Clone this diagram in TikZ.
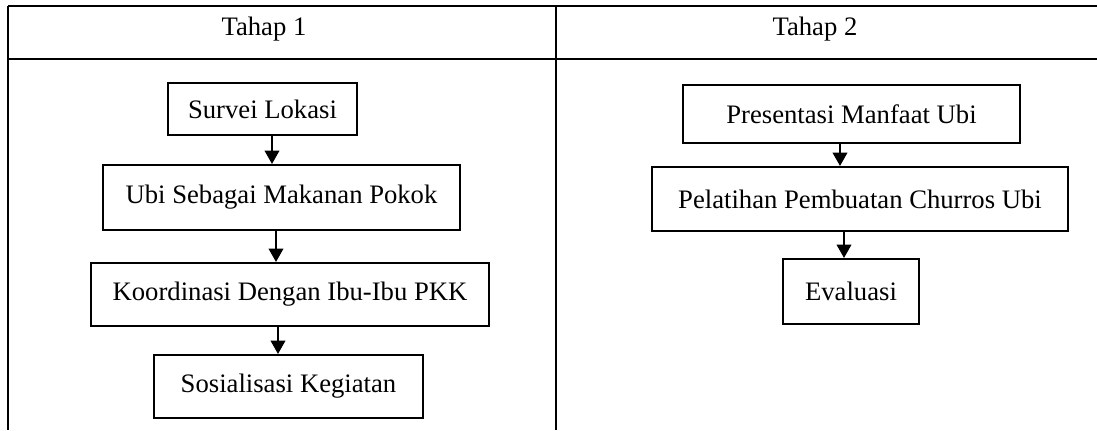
\documentclass[tikz,border=0pt]{standalone}
\usepackage{fontspec}
\setmainfont{Liberation Serif}
\usetikzlibrary{arrows.meta}

\begin{document}
\begin{tikzpicture}[x=0.75pt,y=-0.75pt,
        kotak/.style={draw,line width=1.6pt,inner sep=0pt,font=\fontsize{20}{24}\selectfont},
        panah/.style={line width=1.3pt,-{Triangle[length=10pt,width=11pt]}},
        garis/.style={line width=2.2pt}] %Tahapan kegiatan
            \useasboundingbox (0,0) rectangle (1097,430);
            % tabel
            \draw[garis] (8,6) -- (1097,6);
            \draw[garis] (8,59) -- (1097,59);
            \draw[garis] (8,6) -- (8,430);
            \draw[garis] (556,6) -- (556,430);
            \node[anchor=base,font=\fontsize{20}{24}\selectfont] (t1) at (264,35) {Tahap 1};
            \node[anchor=base,font=\fontsize{20}{24}\selectfont] (t2) at (815,35) {Tahap 2};

            % tahap 1
            \node[kotak,minimum width=141.75pt,minimum height=39pt] (survei) at (262.5,109) {Survei Lokasi};
            \node[kotak,minimum width=267.75pt,minimum height=48.75pt] (ubi) at (281.5,197.5) {Ubi Sebagai Makanan Pokok};
            \node[kotak,minimum width=298.5pt,minimum height=47.25pt] (koordinasi) at (290,294.5) {Koordinasi Dengan Ibu-Ibu PKK};
            \node[kotak,minimum width=201.75pt,minimum height=47.25pt] (sosialisasi) at (288.5,386.5) {Sosialisasi Kegiatan};
            \draw[panah] (272,0 |- survei.south) -- (272,0 |- ubi.north);
            \draw[panah] (276,0 |- ubi.south) -- (276,0 |- koordinasi.north);
            \draw[panah] (278,0 |- koordinasi.south) -- (278,0 |- sosialisasi.north);

            % tahap 2
            \node[kotak,minimum width=252.75pt,minimum height=43.5pt] (presentasi) at (851.5,114) {Presentasi Manfaat Ubi};
            \node[kotak,minimum width=312pt,minimum height=48pt] (pelatihan) at (860,199) {Pelatihan Pembuatan Churros Ubi};
            \node[kotak,minimum width=102pt,minimum height=48.75pt] (evaluasi) at (851,291.5) {Evaluasi};
            \draw[panah] (840,0 |- presentasi.south) -- (840,0 |- pelatihan.north);
            \draw[panah] (844,0 |- pelatihan.south) -- (844,0 |- evaluasi.north);
        \end{tikzpicture}
\end{document}
